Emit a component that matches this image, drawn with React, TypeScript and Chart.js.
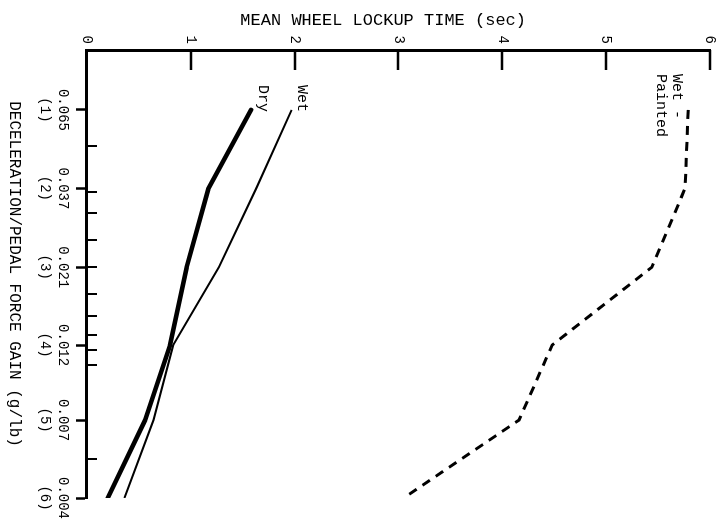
import React, { useEffect, useRef } from "react";
import { Chart, registerables } from "chart.js";

Chart.register(...registerables);

// Deceleration / pedal force gain (g/lb) and the setting numbers
const gainValues = [0.065, 0.037, 0.021, 0.012, 0.007, 0.004];
const gainLabels = ["0.065", "0.037", "0.021", "0.012", "0.007", "0.004"];
const settingLabels = ["(1)", "(2)", "(3)", "(4)", "(5)", "(6)"];
// intermediate (unlabelled) gain tick marks
const minorGainTicks = [0.05, 0.036, 0.031, 0.0255, 0.021, 0.0173, 0.0148, 0.0129, 0.0116, 0.0104, 0.0053];
// mean wheel lockup time ticks (sec)
const timeTicks = [1, 2, 3, 4, 5, 6];

// Mean wheel lockup time (sec)
const dryTimes = [1.58, 1.17, 0.96, 0.8, 0.56, 0.2];
const wetTimes = [1.97, 1.63, 1.27, 0.83, 0.64, 0.36];
const wetPaintedTimes = [5.79, 5.76, 5.44, 4.48, 4.16, 3.05];

const seriesNames = ["Dry", "Wet", "Wet-Painted"];
const seriesCallouts = [["Dry"], ["Wet"], ["Wet -", "Painted"]];

const MONO = '"Liberation Mono", "DejaVu Sans Mono", monospace';

const W = 525;
const H = 726;

const marksPlugin = {
  id: "marks",
  afterDatasetsDraw(chart: any) {
    const { ctx, chartArea } = chart;
    const x = chart.scales.x;
    const y = chart.scales.y;
    ctx.save();
    ctx.strokeStyle = "#000";
    ctx.lineCap = "butt";
    // inward minor ticks on the gain axis
    ctx.lineWidth = 2;
    ctx.beginPath();
    minorGainTicks.forEach((v) => {
      const px = Math.round(x.getPixelForValue(v));
      ctx.moveTo(px, chartArea.bottom);
      ctx.lineTo(px, chartArea.bottom - 10);
    });
    ctx.stroke();
    // inward ticks on the time axis
    ctx.lineWidth = 2.5;
    ctx.beginPath();
    timeTicks.forEach((t) => {
      const py = Math.round(y.getPixelForValue(t));
      ctx.moveTo(chartArea.left, py);
      ctx.lineTo(chartArea.left + 20, py);
    });
    ctx.stroke();

    // series callouts
    const series = [dryTimes, wetTimes, wetPaintedTimes];
    ctx.fillStyle = "#000";
    ctx.font = "15px " + MONO;
    ctx.textBaseline = "middle";
    series.forEach((vals, i) => {
      const px = x.getPixelForValue(gainValues[0]);
      const py = y.getPixelForValue(vals[0]);
      const lines = seriesCallouts[i];
      if (i < 2) {
        ctx.textAlign = "right";
        ctx.fillText(lines[0], px + 2, py - (i === 0 ? 12 : 10));
      } else {
        ctx.textAlign = "left";
        lines.forEach((ln, k) => ctx.fillText(ln, px - 36, py + 11 + k * 16));
      }
    });
    ctx.restore();
  },
};

export default function App() {
  const ref = useRef<HTMLCanvasElement | null>(null);

  useEffect(() => {
    if (!ref.current) return;
    const chart = new Chart(ref.current, {
      type: "line",
      data: {
        datasets: [
          {
            label: seriesNames[0],
            data: gainValues.map((g, i) => ({ x: g, y: dryTimes[i] })),
            borderColor: "#000",
            borderWidth: 4.5,
            borderCapStyle: "round",
            borderJoinStyle: "round",
            pointRadius: 0,
            tension: 0,
          },
          {
            label: seriesNames[1],
            data: gainValues.map((g, i) => ({ x: g, y: wetTimes[i] })),
            borderColor: "#000",
            borderWidth: 2,
            pointRadius: 0,
            tension: 0,
          },
          {
            label: seriesNames[2],
            data: gainValues.map((g, i) => ({ x: g, y: wetPaintedTimes[i] })),
            borderColor: "#000",
            borderWidth: 3,
            borderDash: [9, 7],
            pointRadius: 0,
            tension: 0,
          },
        ],
      },
      options: {
        animation: false,
        responsive: false,
        devicePixelRatio: 1,
        layout: { padding: { top: 16, right: 27, bottom: 0, left: 0 } },
        plugins: { legend: { display: false }, tooltip: { enabled: false } },
        scales: {
          x: {
            type: "logarithmic",
            position: "bottom",
            reverse: true,
            min: 0.004,
            max: 0.1,
            afterBuildTicks: (scale: any) => {
              scale.ticks = gainValues.map((v) => ({ value: v }));
            },
            afterFit: (scale: any) => {
              scale.height = 87;
            },
            ticks: {
              autoSkip: false,
              maxRotation: 0,
              minRotation: 0,
              padding: 4,
              color: "#000",
              font: { family: MONO, size: 14, lineHeight: 1.3 },
              callback: (value: any) => {
                const i = gainValues.findIndex((g) => Math.abs(g - value) < 1e-9);
                return i >= 0 ? [gainLabels[i], settingLabels[i]] : "";
              },
            },
            grid: {
              drawOnChartArea: false,
              drawTicks: true,
              tickLength: 11,
              tickWidth: 2.5,
              tickColor: "#000",
              color: "#000",
            },
            border: { display: true, color: "#000", width: 3 },
            title: {
              display: true,
              text: "DECELERATION/PEDAL FORCE GAIN (g/lb)",
              color: "#000",
              font: { family: MONO, size: 16 },
              padding: { top: 0, bottom: 5 },
            },
          },
          y: {
            type: "linear",
            position: "left",
            min: 0,
            max: 6,
            afterFit: (scale: any) => {
              scale.width = 50;
            },
            ticks: {
              stepSize: 1,
              padding: 6,
              color: "#000",
              font: { family: MONO, size: 14 },
            },
            grid: { drawOnChartArea: false, drawTicks: false },
            border: { display: true, color: "#000", width: 3 },
            title: {
              display: true,
              text: "MEAN WHEEL LOCKUP TIME (sec)   ",
              color: "#000",
              font: { family: MONO, size: 17 },
              padding: { top: 10, bottom: 0 },
            },
          },
        },
      },
      plugins: [marksPlugin],
    } as any);
    return () => chart.destroy();
  }, []);

  return (
    <div
      style={{
        position: "fixed",
        left: 0,
        top: 0,
        width: W,
        height: H,
        background: "#fff",
        transformOrigin: "0 0",
        transform: `translateX(${H}px) rotate(90deg)`,
      }}
    >
      <canvas ref={ref} width={W} height={H} style={{ display: "block" }} />
    </div>
  );
}
